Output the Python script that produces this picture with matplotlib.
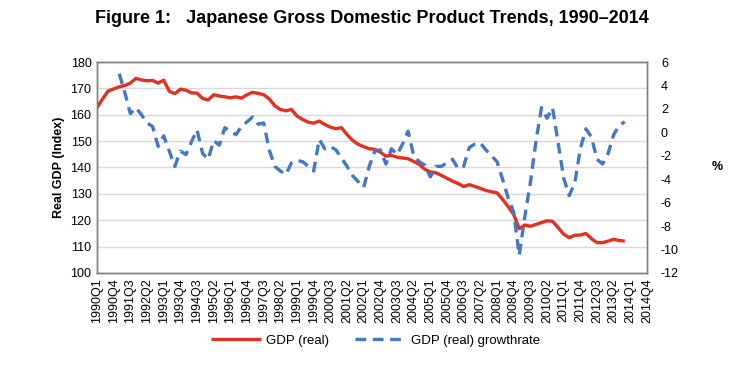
import numpy as np
import matplotlib as mpl
mpl.use('Agg')
import matplotlib.pyplot as plt
plt.rcParams['font.family'] = ['Liberation Sans', 'DejaVu Sans']
plt.rcParams['axes.unicode_minus'] = False

# quarters 1990Q1 .. 2014Q4
years = list(range(1990, 2015))
quarters = ['%dQ%d' % (y, q) for y in years for q in range(1, 5)]

# real GDP index, 1990Q1 .. 2013Q4
gdp_real = [162.7, 166.0, 169.0, 169.8, 170.6, 171.1, 172.0, 173.8, 173.2, 172.9,
            173.0, 172.0, 173.1, 168.9, 168.0, 169.7, 169.3, 168.3, 168.2, 166.2,
            165.6, 167.6, 167.1, 166.8, 166.4, 166.8, 166.3, 167.6, 168.5, 168.1,
            167.6, 166.0, 163.4, 162.0, 161.5, 162.0, 159.5, 158.2, 157.2, 156.8,
            157.6, 156.3, 155.3, 154.7, 155.1, 152.5, 150.3, 148.8, 147.9, 147.1,
            146.9, 145.8, 144.3, 144.6, 143.9, 143.6, 143.3, 142.3, 141.2, 139.3,
            138.3, 138.0, 137.0, 135.9, 134.8, 133.9, 132.8, 133.5, 132.8, 132.1,
            131.3, 130.8, 130.4, 127.9, 125.2, 122.2, 116.8, 118.2, 117.7, 118.4,
            119.1, 119.8, 119.6, 117.2, 114.7, 113.4, 114.3, 114.4, 115.0, 113.0,
            111.5, 111.5, 112.1, 112.8, 112.3, 112.1]

# year-on-year growth rate (%), 1991Q1 .. 2013Q4
gdp_growth = [5.0, 3.4, 1.6, 2.1, 1.5, 0.8, 0.5, -1.2, -0.3, -1.6,
              -2.9, -1.6, -1.9, -0.8, 0.2, -1.8, -2.3, -0.7, -1.1, 0.4,
              0.1, -0.2, 0.5, 0.9, 1.3, 0.7, 0.8, -1.5, -2.9, -3.3,
              -3.6, -2.6, -2.4, -2.5, -2.9, -3.3, -0.6, -1.4, -1.2, -1.5,
              -2.2, -2.9, -3.7, -4.2, -4.7, -2.9, -1.6, -1.5, -2.7, -1.4,
              -1.9, -1.0, 0.1, -2.0, -2.5, -2.8, -3.8, -2.9, -2.9, -2.6,
              -2.3, -3.1, -2.9, -1.3, -1.0, -0.9, -1.5, -2.0, -2.5, -4.0,
              -5.6, -6.8, -10.5, -7.2, -4.3, -0.8, 2.1, 1.2, 2.1, -0.9,
              -3.9, -5.4, -4.3, -1.4, 0.3, -0.4, -2.3, -2.7, -1.8, -0.2,
              0.6, 0.9]

x = np.arange(len(quarters))
x_gdp = x[:len(gdp_real)]
x_gr = x[4:4 + len(gdp_growth)]

fig = plt.figure(figsize=(7.43, 3.70), dpi=100)
ax = fig.add_axes([0.1306, 0.2622, 0.7402, 0.5702])
ax2 = ax.twinx()

red = '#E3301F'
blue = '#4677C6'

ax.plot(x_gdp, gdp_real, color=red, lw=2.4, solid_capstyle='butt',
        label='GDP (real)', zorder=3)
ax2.plot(x_gr, gdp_growth, color=blue, lw=2.4, dashes=(3.2, 2.0),
         label='GDP (real) growthrate')

ax.set_xlim(0, len(quarters) - 1)
ax.set_ylim(100, 180)
ax.set_yticks(np.arange(100, 181, 10))
ax2.set_ylim(-12, 6)
ax2.set_yticks(np.arange(-12, 7, 2))

ax.set_xticks(x[::3])
ax.set_xticklabels(quarters[::3], rotation=90, fontsize=9)
ax.tick_params(axis='both', length=0, pad=4, labelsize=9)
ax2.tick_params(axis='y', length=0, pad=10, labelsize=9)

ax.grid(axis='y', color='#D9D9D9', lw=1.0)
ax.set_axisbelow(True)
for a in (ax, ax2):
    for s in a.spines.values():
        s.set_color('#7F7F7F')
        s.set_linewidth(1.0)

ax.set_ylabel('Real GDP (Index)', fontsize=9, fontweight='bold', labelpad=4)
ax2.set_ylabel('%', fontsize=9, fontweight='bold', rotation=0, labelpad=28, va='center')

fig.text(0.5, 0.95, 'Figure 1:   Japanese Gross Domestic Product Trends, 1990\u20132014',
         ha='center', va='center', fontsize=13, fontweight='bold')

h1, l1 = ax.get_legend_handles_labels()
h2, l2 = ax2.get_legend_handles_labels()
fig.legend(h1 + h2, l1 + l2, loc='center', bbox_to_anchor=(0.505, 0.08), ncol=2,
           frameon=False, fontsize=9.5, handlelength=3.8, columnspacing=2.0,
           handletextpad=0.4)

fig.savefig('out.png', dpi=100)
